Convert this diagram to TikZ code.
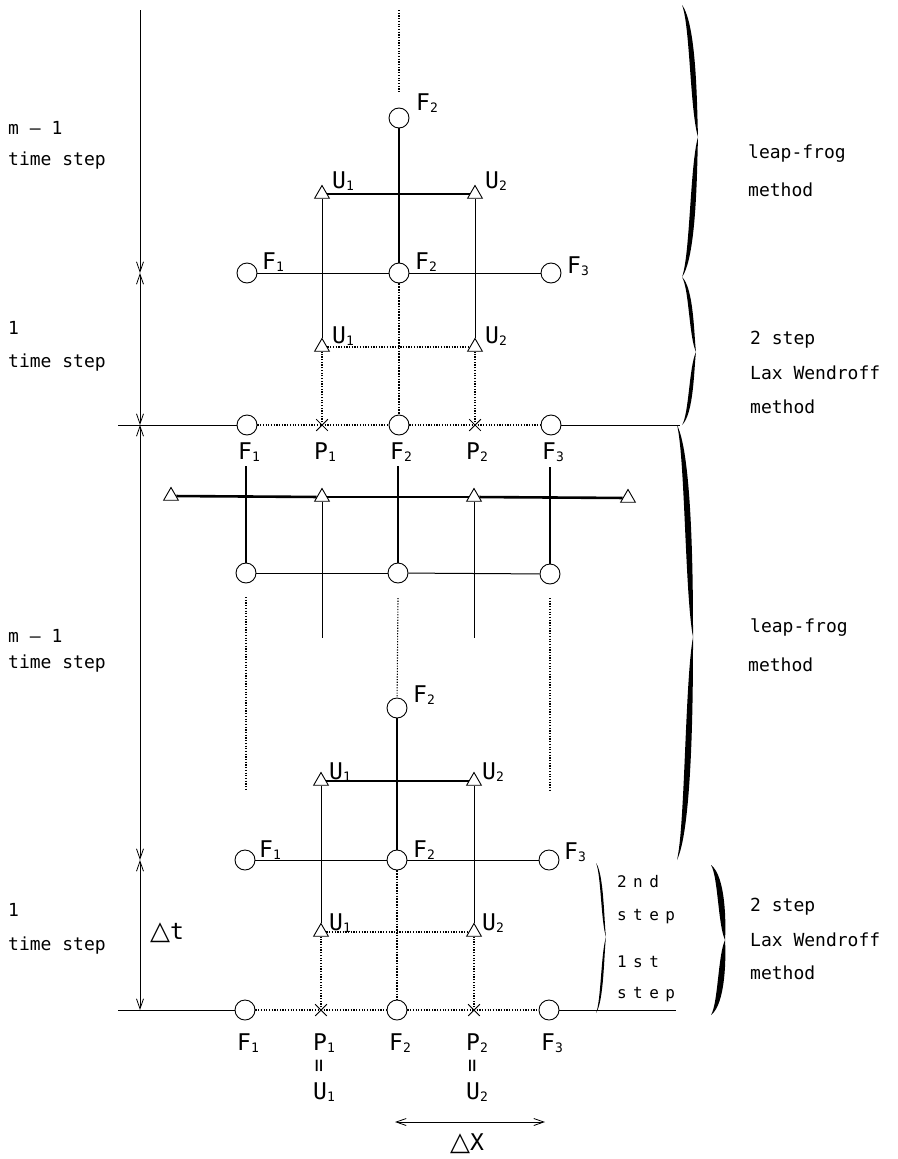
\documentclass[tikz,border=0pt]{standalone}
\usepackage{fontspec}
\usetikzlibrary{shapes.geometric,shapes.misc,arrows.meta}
\newfontfamily\lab{DejaVu Sans Mono}
\newfontfamily\labsp[LetterSpace=40]{DejaVu Sans Mono}
\newfontfamily\symf{DejaVu Sans}
\newcommand\idx[2]{#1\kern0.3pt\raisebox{-2pt}{\fontsize{13}{13}\selectfont #2}}
\newcommand\wbrace[6]{% x, ytop, ymid, ybot, w, t
\fill (#1,#2) .. controls ({#1+#5+#6},{#2+0.15*(#3-#2)}) and ({#1+#5+#6},{#3-0.2*(#3-#2)}) .. ({#1+2*#5},#3)
 .. controls ({#1+#5+#6},{#3+0.2*(#4-#3)}) and ({#1+#5+#6},{#4-0.15*(#4-#3)}) .. (#1,#4)
 .. controls ({#1+#5},{#4-0.15*(#4-#3)}) and ({#1+#5},{#3+0.2*(#4-#3)}) .. ({#1+2*#5},#3)
 .. controls ({#1+#5},{#3-0.2*(#3-#2)}) and ({#1+#5},{#2+0.15*(#3-#2)}) .. (#1,#2) -- cycle;}
\begin{document}
\begin{tikzpicture}[x=1pt,y=-1pt,
  fc/.style={circle, draw, fill=white, minimum size=20pt, inner sep=0pt, line width=0.9pt},
  tri/.style={regular polygon, regular polygon sides=3, draw, fill=white, minimum size=17pt, inner sep=0pt, line width=0.9pt},
  px/.style={cross out, draw, minimum size=11pt, inner sep=0pt, line width=0.7pt},
  thinl/.style={line width=1pt},
  heavy/.style={line width=2.6pt},
  dotln/.style={line width=1.1pt, dash pattern=on 1.2pt off 1.5pt},
  meddot/.style={line width=2pt, dash pattern=on 1.3pt off 1.4pt},
  heavydot/.style={line width=2.8pt, dash pattern=on 1.5pt off 1.3pt},
  lbl/.style={font=\lab\fontsize{23}{23}\selectfont, inner sep=0pt},
  txt/.style={font=\lab\fontsize{18}{18}\selectfont, inner sep=0pt, anchor=west},
  stxt/.style={font=\labsp\fontsize{16}{16}\selectfont, inner sep=0pt, anchor=west},
  vEq/.style={inner sep=0pt, rotate=90, font=\lab\fontsize{22}{22}\selectfont},
  dim/.style={line width=0.8pt},
  barb/.tip={Straight Barb[length=10pt,width=7pt,line width=0.8pt]}
]
\useasboundingbox (0,0) rectangle (897,1159);

% ---------------- left time axis ----------------
\coordinate (ax0) at (140,10);
\coordinate (ax1) at (140,273);
\coordinate (ax2) at (140,425);
\coordinate (ax3) at (140,860);
\coordinate (ax4) at (140,1010);
\draw[dim,-barb] (ax0) -- (ax1);
\draw[dim,barb-barb] (ax1) -- (ax2);
\draw[dim,barb-barb] (ax2) -- (ax3);
\draw[dim,barb-barb] (ax3) -- (ax4);

\node[txt] (t1a) at (8,128) {m — 1};
\node[txt] (t1b) at (8,161) {time step};
\node[txt] (t2a) at (8,328) {1};
\node[txt] (t2b) at (8,363) {time step};
\node[txt] (t3a) at (8,636) {m — 1};
\node[txt] (t3b) at (8,664) {time step};
\node[txt] (t4a) at (8,910) {1};
\node[txt] (t4b) at (8,946) {time step};
\node[inner sep=0pt] (dt) at (167,933) {{\symf\fontsize{26}{26}\selectfont △}{\lab\fontsize{23}{23}\selectfont t}};

% ---------------- upper block ----------------
\node[fc] (tF2) at (399,118) {};
\node[tri] (tU1) at (322,194) {};
\node[tri] (tU2) at (475,194) {};
\node[fc] (mF1) at (247,273) {};
\node[fc] (mF2) at (399,273) {};
\node[fc] (mF3) at (551,273) {};
\node[tri] (lU1) at (322,347) {};
\node[tri] (lU2) at (475,347) {};
\node[fc] (bF1) at (247,425) {};
\node[px] (bP1) at (322,425) {};
\node[fc] (bF2) at (399,425) {};
\node[px] (bP2) at (475,425) {};
\node[fc] (bF3) at (551,425) {};
\coordinate (topd0) at (399,10);
\coordinate (topd1) at (399,92);
\coordinate (bL) at (118,425);
\coordinate (bR) at (680,425);

\draw[dotln] (topd0) -- (topd1);
\draw[heavy] (tF2) -- (mF2);
\draw[heavy] (tU1) -- (tU2);
\draw[thinl] (mF1) -- (mF2);
\draw[thinl] (mF2) -- (mF3);
\draw[thinl] (lU1) -- (tU1);
\draw[thinl] (lU2) -- (tU2);
\draw[heavydot] (mF2) -- (bF2);
\draw[meddot] (lU1) -- (lU2);
\draw[dotln] (bP1.center) -- (lU1);
\draw[dotln] (bP2.center) -- (lU2);
\draw[dotln] (bF1) -- (bP1.center);
\draw[dotln] (bP1.center) -- (bF2);
\draw[dotln] (bF2) -- (bP2.center);
\draw[dotln] (bP2.center) -- (bF3);
\draw[thinl] (bL) -- (bF1);
\draw[thinl] (bF3) -- (bR);
\node[px] at (bP1) {};
\node[px] at (bP2) {};

\node[lbl] (ltF2) at (427,103) {\idx{F}{2}};
\node[lbl] (ltU1) at (343,181) {\idx{U}{1}};
\node[lbl] (ltU2) at (496,181) {\idx{U}{2}};
\node[lbl] (lmF1) at (273,262) {\idx{F}{1}};
\node[lbl] (lmF2) at (426,262) {\idx{F}{2}};
\node[lbl] (lmF3) at (578,266) {\idx{F}{3}};
\node[lbl] (llU1) at (343,336) {\idx{U}{1}};
\node[lbl] (llU2) at (496,336) {\idx{U}{2}};

% ---------------- middle block ----------------
\node[lbl] (mlF1) at (249,452) {\idx{F}{1}};
\node[lbl] (mlP1) at (325,452) {\idx{P}{1}};
\node[lbl] (mlF2) at (401,452) {\idx{F}{2}};
\node[lbl] (mlP2) at (477,452) {\idx{P}{2}};
\node[lbl] (mlF3) at (553,452) {\idx{F}{3}};
\node[tri] (LT) at (171,496) {};
\node[tri] (T1) at (322,497) {};
\node[tri] (T2) at (474,497) {};
\node[tri] (RT) at (628,498) {};
\node[fc] (cF1) at (246,573) {};
\node[fc] (cF2) at (398,573) {};
\node[fc] (cF3) at (550,574) {};
\coordinate (v1) at (246,466);
\coordinate (v2) at (398,466);
\coordinate (v3) at (550,467);
\coordinate (e1) at (322,638);
\coordinate (e2) at (474,638);
\coordinate (d1a) at (246,597);
\coordinate (d1b) at (246,790);
\coordinate (d2a) at (398,598);
\coordinate (d3a) at (550,598);
\coordinate (d3b) at (550,792);

\draw[heavy] (v1) -- (cF1);
\draw[heavy] (v2) -- (cF2);
\draw[heavy] (v3) -- (cF3);
\draw[heavy] (LT) -- (T1);
\draw[heavy] (T1) -- (T2);
\draw[heavy] (T2) -- (RT);
\draw[thinl] (cF1) -- (cF2);
\draw[thinl] (cF2) -- (cF3);
\draw[thinl] (T1) -- (e1);
\draw[thinl] (T2) -- (e2);
\draw[dotln] (d1a) -- (d1b);
\draw[dotln] (d3a) -- (d3b);

% ---------------- lower block ----------------
\node[fc] (qtF2) at (397,708) {};
\node[tri] (qU1) at (321,781) {};
\node[tri] (qU2) at (474,781) {};
\node[fc] (qF1) at (245,860) {};
\node[fc] (qF2) at (397,860) {};
\node[fc] (qF3) at (549,860) {};
\node[tri] (qlU1) at (321,932) {};
\node[tri] (qlU2) at (474,932) {};
\node[fc] (qbF1) at (245,1010) {};
\node[px] (qbP1) at (321,1010) {};
\node[fc] (qbF2) at (397,1010) {};
\node[px] (qbP2) at (474,1010) {};
\node[fc] (qbF3) at (549,1010) {};
\coordinate (qL) at (118,1010);
\coordinate (qR) at (676,1010);

\draw[dotln] (d2a) -- (qtF2);
\draw[heavy] (qtF2) -- (qF2);
\draw[heavy] (qU1) -- (qU2);
\draw[thinl] (qF1) -- (qF2);
\draw[thinl] (qF2) -- (qF3);
\draw[thinl] (qlU1) -- (qU1);
\draw[thinl] (qlU2) -- (qU2);
\draw[heavydot] (qF2) -- (qbF2);
\draw[meddot] (qlU1) -- (qlU2);
\draw[dotln] (qbP1.center) -- (qlU1);
\draw[dotln] (qbP2.center) -- (qlU2);
\draw[dotln] (qbF1) -- (qbP1.center);
\draw[dotln] (qbP1.center) -- (qbF2);
\draw[dotln] (qbF2) -- (qbP2.center);
\draw[dotln] (qbP2.center) -- (qbF3);
\draw[thinl] (qL) -- (qbF1);
\draw[thinl] (qbF3) -- (qR);
\node[px] at (qbP1) {};
\node[px] at (qbP2) {};

\node[lbl] (lqtF2) at (424,695) {\idx{F}{2}};
\node[lbl] (lqU1) at (340,772) {\idx{U}{1}};
\node[lbl] (lqU2) at (493,772) {\idx{U}{2}};
\node[lbl] (lqF1) at (270,850) {\idx{F}{1}};
\node[lbl] (lqF2) at (424,850) {\idx{F}{2}};
\node[lbl] (lqF3) at (575,852) {\idx{F}{3}};
\node[lbl] (lqlU1) at (340,923) {\idx{U}{1}};
\node[lbl] (lqlU2) at (493,923) {\idx{U}{2}};

\node[lbl] (bl1) at (248,1043) {\idx{F}{1}};
\node[lbl] (bl2) at (324,1043) {\idx{P}{1}};
\node[lbl] (bl3) at (400,1043) {\idx{F}{2}};
\node[lbl] (bl4) at (477,1043) {\idx{P}{2}};
\node[lbl] (bl5) at (552,1043) {\idx{F}{3}};
\node[vEq] (eq1) at (321,1066) {=};
\node[vEq] (eq2) at (474,1066) {=};
\node[lbl] (bu1) at (324,1092) {\idx{U}{1}};
\node[lbl] (bu2) at (477,1092) {\idx{U}{2}};

\coordinate (dxL) at (395,1122);
\coordinate (dxR) at (545,1122);
\draw[dim,barb-barb] (dxL) -- (dxR);
\node[inner sep=0pt] (dx) at (467,1144) {{\symf\fontsize{26}{26}\selectfont △}{\lab\fontsize{23}{23}\selectfont X}};

% ---------------- braces ----------------
\wbrace{682}{5}{137}{277}{8}{7}
\wbrace{682}{277}{352}{425}{7}{5}
\wbrace{677}{425}{637}{860}{8}{8}
\wbrace{596}{863}{937}{1013}{5}{3}
\wbrace{711}{865}{940}{1015}{7}{8}

\node[txt] (r1a) at (748,154) {leap-frog};
\node[txt] (r1b) at (748,190) {method};
\node[txt] (r2a) at (750,340) {2 step};
\node[txt] (r2b) at (750,373) {Lax Wendroff};
\node[txt] (r2c) at (750,407) {method};
\node[txt] (r3a) at (750,628) {leap-frog};
\node[txt] (r3b) at (748,665) {method};
\node[txt] (r4a) at (750,907) {2 step};
\node[txt] (r4b) at (750,940) {Lax Wendroff};
\node[txt] (r4c) at (750,973) {method};
\node[stxt] (s1) at (617,882) {2nd};
\node[stxt] (s2) at (617,917) {step};
\node[stxt] (s3) at (617,962) {1st};
\node[stxt] (s4) at (617,995) {step};
\end{tikzpicture}
\end{document}
